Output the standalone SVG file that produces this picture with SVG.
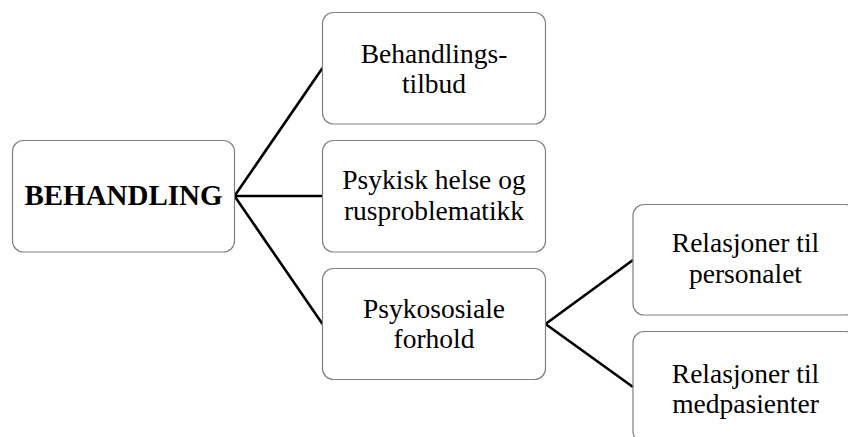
<svg xmlns="http://www.w3.org/2000/svg" width="848" height="437" viewBox="0 0 848 437">
<style>
.box{fill:#ffffff;stroke:#808080;stroke-width:1.2}
.t{font-family:"Liberation Serif","Times New Roman",serif;font-size:27.5px;fill:#000;text-anchor:middle}
.b{font-weight:bold;font-size:29px}
.c{stroke:#000;stroke-width:2.6;fill:none}
</style>
<rect width="848" height="437" fill="#ffffff"/>
<g id="connectors">
<line class="c" x1="234.5" y1="196" x2="322.5" y2="68"/>
<line class="c" x1="234.5" y1="196" x2="322.5" y2="196"/>
<line class="c" x1="234.5" y1="196" x2="322.5" y2="324"/>
<line class="c" x1="545.5" y1="324" x2="633" y2="260"/>
<line class="c" x1="545.5" y1="324" x2="633" y2="387"/>
</g>
<g id="n-behandling">
<rect class="box" x="12.5" y="140.5" width="222" height="111.5" rx="11"/>
<text class="t b" x="123.5" y="205">BEHANDLING</text>
</g>
<g id="n-tilbud">
<rect class="box" x="322.5" y="12.5" width="223" height="111.5" rx="11"/>
<text class="t" x="434" y="62.75">Behandlings-<tspan x="434" y="93.25">tilbud</tspan></text>
</g>
<g id="n-psykisk">
<rect class="box" x="322.5" y="140.5" width="223" height="111.5" rx="11"/>
<text class="t" x="434" y="189">Psykisk helse og<tspan x="434" y="219.5">rusproblematikk</tspan></text>
</g>
<g id="n-psykososiale">
<rect class="box" x="322.5" y="268.5" width="223" height="111" rx="11"/>
<text class="t" x="434" y="317.5">Psykososiale<tspan x="434" y="348">forhold</tspan></text>
</g>
<g id="n-personalet">
<rect class="box" x="633" y="204.5" width="223" height="110.5" rx="11"/>
<text class="t" x="745.5" y="252.25">Relasjoner til<tspan x="745.5" y="282.75">personalet</tspan></text>
</g>
<g id="n-medpasienter">
<rect class="box" x="633" y="331.5" width="223" height="111" rx="11"/>
<text class="t" x="745.5" y="382.5">Relasjoner til<tspan x="745.5" y="413">medpasienter</tspan></text>
</g>
</svg>
